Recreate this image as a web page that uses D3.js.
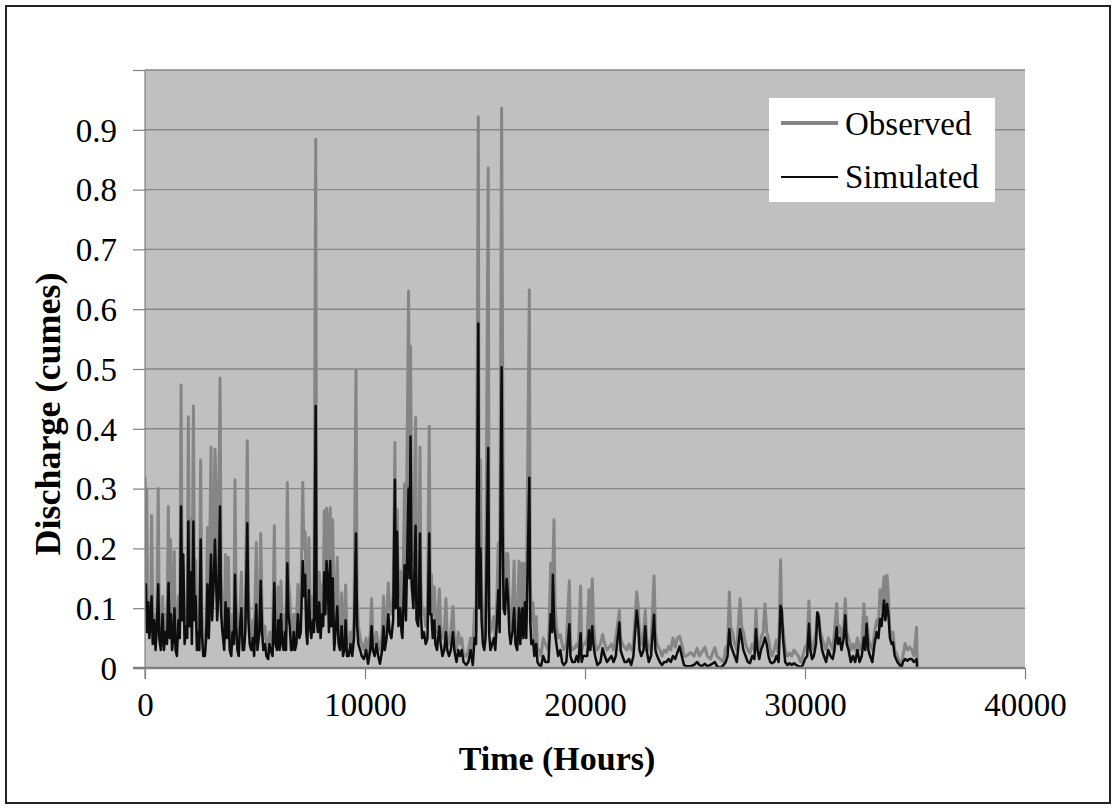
<!DOCTYPE html>
<html><head><meta charset="utf-8">
<script src="https://cdn.jsdelivr.net/npm/d3@7"></script>
<style>body{margin:0;background:#fff}svg{display:block}</style>
</head><body>
<script>
const xTicks = [0, 10000, 20000, 30000, 40000];
const yTicks = [0, 0.1, 0.2, 0.3, 0.4, 0.5, 0.6, 0.7, 0.8, 0.9, 1.0];
const seriesNames = ["Observed", "Simulated"];

const observed = [[0,0.32],[30,0.12],[75,0.30],[120,0.08],[180,0.10],[250,0.06],[300,0.255],[360,0.07],[420,0.09],[480,0.05],[540,0.08],[600,0.30],[650,0.07],[720,0.05],[800,0.12],[860,0.04],[930,0.09],[1000,0.06],[1060,0.27],[1110,0.10],[1160,0.215],[1210,0.05],[1270,0.07],[1330,0.195],[1380,0.05],[1450,0.04],[1520,0.12],[1580,0.07],[1640,0.473],[1690,0.12],[1740,0.17],[1800,0.06],[1860,0.10],[1920,0.07],[1970,0.42],[2020,0.10],[2080,0.25],[2130,0.07],[2200,0.438],[2250,0.12],[2300,0.18],[2360,0.06],[2420,0.09],[2470,0.05],[2530,0.348],[2580,0.10],[2650,0.04],[2720,0.03],[2780,0.07],[2840,0.235],[2900,0.07],[3000,0.369],[3050,0.12],[3110,0.2],[3180,0.366],[3230,0.31],[3280,0.13],[3340,0.2],[3410,0.485],[3460,0.15],[3520,0.10],[3600,0.06],[3660,0.19],[3720,0.08],[3790,0.185],[3850,0.06],[3920,0.04],[3980,0.09],[4040,0.07],[4090,0.315],[4140,0.12],[4200,0.06],[4260,0.04],[4320,0.10],[4380,0.16],[4440,0.06],[4500,0.05],[4560,0.09],[4650,0.38],[4700,0.13],[4760,0.07],[4830,0.05],[4900,0.08],[4960,0.04],[5060,0.21],[5110,0.06],[5200,0.09],[5260,0.225],[5320,0.10],[5380,0.05],[5450,0.07],[5520,0.04],[5600,0.03],[5660,0.06],[5720,0.05],[5800,0.04],[5880,0.238],[5930,0.07],[6000,0.06],[6060,0.136],[6120,0.05],[6180,0.146],[6240,0.07],[6300,0.06],[6360,0.09],[6410,0.06],[6470,0.31],[6520,0.15],[6580,0.12],[6640,0.06],[6700,0.05],[6760,0.09],[6820,0.05],[6880,0.07],[6950,0.14],[7020,0.08],[7080,0.1],[7170,0.31],[7220,0.2],[7280,0.228],[7330,0.10],[7380,0.07],[7450,0.218],[7500,0.12],[7560,0.08],[7620,0.12],[7680,0.10],[7760,0.884],[7800,0.12],[7860,0.10],[7920,0.16],[7980,0.08],[8050,0.14],[8100,0.11],[8150,0.263],[8200,0.15],[8250,0.267],[8310,0.248],[8360,0.10],[8420,0.268],[8470,0.12],[8530,0.248],[8600,0.06],[8660,0.10],[8740,0.185],[8800,0.07],[8860,0.06],[8940,0.126],[9000,0.05],[9060,0.06],[9120,0.139],[9180,0.05],[9260,0.04],[9340,0.06],[9420,0.04],[9500,0.08],[9590,0.498],[9640,0.12],[9700,0.07],[9780,0.05],[9850,0.04],[9950,0.03],[10050,0.05],[10140,0.02],[10240,0.06],[10300,0.116],[10360,0.05],[10440,0.04],[10520,0.06],[10600,0.04],[10680,0.03],[10780,0.06],[10840,0.12],[10900,0.06],[10980,0.08],[11060,0.142],[11120,0.10],[11200,0.09],[11280,0.12],[11360,0.377],[11400,0.15],[11460,0.265],[11520,0.12],[11600,0.162],[11660,0.10],[11700,0.08],[11800,0.308],[11860,0.14],[11980,0.63],[12020,0.30],[12070,0.538],[12120,0.24],[12200,0.18],[12300,0.419],[12340,0.14],[12420,0.12],[12500,0.369],[12540,0.15],[12600,0.09],[12680,0.10],[12760,0.07],[12840,0.09],[12920,0.404],[12960,0.16],[13020,0.156],[13080,0.09],[13150,0.136],[13200,0.08],[13270,0.06],[13380,0.132],[13440,0.07],[13520,0.05],[13600,0.06],[13680,0.116],[13740,0.05],[13820,0.04],[13900,0.06],[14000,0.103],[14060,0.05],[14160,0.03],[14240,0.06],[14320,0.04],[14400,0.05],[14480,0.02],[14600,0.02],[14700,0.03],[14800,0.05],[14900,0.03],[14980,0.096],[15050,0.06],[15150,0.922],[15190,0.15],[15250,0.348],[15300,0.14],[15360,0.07],[15420,0.05],[15480,0.08],[15600,0.836],[15640,0.10],[15700,0.06],[15780,0.07],[15860,0.086],[15920,0.05],[16000,0.12],[16060,0.209],[16120,0.10],[16210,0.936],[16250,0.553],[16300,0.15],[16360,0.13],[16440,0.192],[16500,0.19],[16560,0.10],[16620,0.07],[16700,0.10],[16780,0.179],[16840,0.07],[16920,0.06],[17000,0.179],[17060,0.07],[17140,0.175],[17200,0.08],[17270,0.175],[17330,0.09],[17470,0.632],[17510,0.15],[17560,0.08],[17640,0.109],[17700,0.04],[17780,0.086],[17840,0.03],[17920,0.03],[18000,0.02],[18100,0.05],[18200,0.04],[18340,0.03],[18440,0.175],[18500,0.10],[18590,0.248],[18640,0.10],[18700,0.07],[18780,0.05],[18880,0.056],[18960,0.04],[19040,0.03],[19150,0.04],[19290,0.146],[19340,0.04],[19420,0.03],[19540,0.033],[19620,0.04],[19700,0.035],[19800,0.137],[19850,0.03],[19920,0.04],[20000,0.04],[20100,0.05],[20180,0.131],[20240,0.06],[20330,0.149],[20380,0.08],[20460,0.04],[20560,0.03],[20700,0.04],[20800,0.056],[20900,0.04],[21000,0.03],[21100,0.035],[21200,0.04],[21300,0.03],[21400,0.05],[21560,0.096],[21620,0.05],[21700,0.04],[21800,0.035],[21900,0.03],[22000,0.04],[22100,0.03],[22200,0.04],[22350,0.127],[22420,0.103],[22480,0.06],[22560,0.04],[22660,0.06],[22740,0.096],[22800,0.05],[22900,0.03],[23000,0.04],[23140,0.154],[23200,0.06],[23280,0.04],[23400,0.03],[23500,0.02],[23600,0.03],[23700,0.026],[23800,0.036],[23900,0.03],[24000,0.05],[24100,0.035],[24200,0.05],[24300,0.053],[24400,0.04],[24500,0.02],[24600,0.02],[24800,0.026],[24950,0.02],[25100,0.033],[25200,0.02],[25300,0.026],[25450,0.035],[25560,0.02],[25700,0.015],[25900,0.034],[26000,0.02],[26150,0.015],[26300,0.01],[26400,0.035],[26480,0.03],[26560,0.127],[26620,0.07],[26700,0.06],[26800,0.04],[26900,0.03],[27050,0.116],[27120,0.07],[27200,0.06],[27300,0.04],[27400,0.03],[27500,0.025],[27600,0.04],[27700,0.03],[27770,0.099],[27840,0.04],[27920,0.03],[28000,0.05],[28100,0.06],[28180,0.107],[28260,0.06],[28340,0.05],[28420,0.03],[28500,0.02],[28600,0.03],[28700,0.047],[28800,0.02],[28890,0.181],[28950,0.06],[29000,0.07],[29100,0.03],[29200,0.02],[29300,0.025],[29400,0.02],[29500,0.03],[29600,0.025],[29700,0.02],[29800,0.01],[29900,0.02],[30000,0.035],[30100,0.04],[30180,0.112],[30240,0.05],[30320,0.03],[30400,0.04],[30500,0.06],[30560,0.093],[30620,0.09],[30700,0.06],[30780,0.05],[30860,0.04],[30960,0.03],[31060,0.05],[31160,0.04],[31260,0.03],[31340,0.06],[31440,0.108],[31500,0.06],[31580,0.07],[31660,0.05],[31760,0.07],[31830,0.116],[31900,0.06],[31980,0.05],[32080,0.03],[32180,0.04],[32280,0.03],[32380,0.05],[32480,0.03],[32580,0.04],[32680,0.107],[32740,0.05],[32800,0.085],[32880,0.05],[32960,0.04],[33060,0.03],[33160,0.06],[33260,0.08],[33340,0.07],[33410,0.131],[33480,0.1],[33590,0.153],[33650,0.09],[33730,0.155],[33790,0.12],[33860,0.06],[33940,0.05],[34000,0.06],[34080,0.03],[34200,0.02],[34300,0.01],[34390,0.002],[34450,0.02],[34550,0.041],[34650,0.03],[34750,0.035],[34850,0.03],[34950,0.02],[35070,0.068],[35100,0.005]];

const simulated = [[0,0.10],[40,0.14],[90,0.06],[150,0.11],[200,0.05],[260,0.09],[300,0.12],[350,0.04],[420,0.08],[480,0.03],[540,0.07],[600,0.14],[650,0.05],[720,0.03],[800,0.09],[860,0.03],[930,0.06],[1000,0.04],[1070,0.142],[1120,0.05],[1180,0.09],[1230,0.03],[1290,0.05],[1340,0.10],[1390,0.03],[1450,0.02],[1520,0.08],[1580,0.05],[1640,0.27],[1690,0.08],[1740,0.19],[1800,0.04],[1860,0.07],[1920,0.05],[1970,0.245],[2020,0.07],[2080,0.16],[2130,0.04],[2200,0.245],[2250,0.08],[2300,0.12],[2360,0.03],[2420,0.06],[2470,0.03],[2530,0.215],[2580,0.06],[2650,0.02],[2720,0.02],[2780,0.05],[2840,0.14],[2900,0.05],[3000,0.19],[3050,0.08],[3110,0.13],[3180,0.215],[3230,0.15],[3280,0.08],[3340,0.12],[3410,0.27],[3460,0.09],[3520,0.06],[3600,0.03],[3660,0.11],[3720,0.05],[3790,0.10],[3850,0.03],[3920,0.02],[3980,0.06],[4040,0.04],[4090,0.156],[4140,0.07],[4200,0.03],[4260,0.02],[4320,0.07],[4380,0.10],[4440,0.03],[4500,0.03],[4560,0.06],[4650,0.242],[4700,0.08],[4760,0.04],[4830,0.03],[4900,0.05],[4960,0.02],[5060,0.106],[5110,0.03],[5200,0.06],[5260,0.146],[5320,0.06],[5380,0.03],[5450,0.04],[5520,0.02],[5600,0.015],[5660,0.04],[5720,0.03],[5800,0.02],[5880,0.142],[5930,0.04],[6000,0.03],[6060,0.08],[6120,0.03],[6180,0.09],[6240,0.04],[6300,0.03],[6360,0.06],[6410,0.03],[6470,0.175],[6520,0.09],[6580,0.07],[6640,0.03],[6700,0.03],[6760,0.06],[6820,0.03],[6880,0.04],[6950,0.09],[7020,0.05],[7080,0.06],[7170,0.179],[7220,0.12],[7280,0.156],[7330,0.06],[7380,0.04],[7450,0.13],[7500,0.07],[7560,0.05],[7620,0.08],[7680,0.06],[7760,0.438],[7800,0.08],[7860,0.06],[7920,0.11],[7980,0.05],[8050,0.09],[8100,0.07],[8150,0.16],[8200,0.09],[8250,0.179],[8310,0.15],[8360,0.06],[8420,0.179],[8470,0.07],[8530,0.15],[8600,0.03],[8660,0.06],[8740,0.103],[8800,0.04],[8860,0.03],[8940,0.07],[9000,0.02],[9060,0.03],[9120,0.08],[9180,0.02],[9260,0.02],[9340,0.04],[9420,0.02],[9500,0.05],[9590,0.225],[9640,0.07],[9700,0.04],[9780,0.03],[9850,0.02],[9950,0.015],[10050,0.03],[10140,0.007],[10240,0.03],[10300,0.07],[10360,0.03],[10440,0.02],[10520,0.04],[10600,0.02],[10680,0.007],[10780,0.03],[10840,0.07],[10900,0.03],[10980,0.05],[11060,0.09],[11120,0.06],[11200,0.05],[11280,0.08],[11360,0.315],[11400,0.10],[11460,0.228],[11520,0.07],[11600,0.10],[11660,0.06],[11700,0.05],[11800,0.172],[11860,0.08],[11980,0.30],[12020,0.15],[12070,0.387],[12120,0.14],[12200,0.10],[12300,0.238],[12340,0.08],[12420,0.07],[12500,0.225],[12540,0.09],[12600,0.05],[12680,0.06],[12760,0.04],[12840,0.05],[12920,0.225],[12960,0.09],[13020,0.09],[13080,0.05],[13150,0.08],[13200,0.04],[13270,0.03],[13380,0.07],[13440,0.04],[13520,0.02],[13600,0.03],[13680,0.06],[13740,0.03],[13820,0.02],[13900,0.03],[14000,0.06],[14060,0.03],[14160,0.01],[14240,0.03],[14320,0.02],[14400,0.03],[14480,0.01],[14600,0.005],[14700,0.01],[14800,0.03],[14900,0.005],[14980,0.05],[15050,0.04],[15150,0.576],[15190,0.10],[15250,0.20],[15300,0.08],[15360,0.04],[15420,0.03],[15480,0.05],[15600,0.368],[15640,0.06],[15700,0.03],[15780,0.04],[15860,0.05],[15920,0.03],[16000,0.08],[16060,0.13],[16120,0.06],[16210,0.503],[16250,0.25],[16300,0.10],[16360,0.09],[16440,0.149],[16500,0.12],[16560,0.06],[16620,0.04],[16700,0.06],[16780,0.10],[16840,0.04],[16920,0.03],[17000,0.10],[17060,0.04],[17140,0.10],[17200,0.05],[17270,0.11],[17330,0.05],[17470,0.318],[17510,0.08],[17560,0.04],[17640,0.046],[17700,0.02],[17780,0.04],[17840,0.01],[17920,0.005],[18000,0.003],[18100,0.02],[18200,0.01],[18340,0.01],[18440,0.09],[18500,0.06],[18540,0.156],[18600,0.07],[18700,0.04],[18780,0.02],[18880,0.03],[18960,0.01],[19040,0.005],[19150,0.01],[19290,0.073],[19340,0.02],[19420,0.01],[19540,0.01],[19620,0.02],[19700,0.01],[19800,0.058],[19850,0.01],[19920,0.02],[20000,0.02],[20100,0.02],[20180,0.063],[20240,0.03],[20330,0.07],[20380,0.04],[20460,0.02],[20560,0.005],[20700,0.01],[20800,0.033],[20900,0.02],[21000,0.01],[21100,0.015],[21200,0.02],[21300,0.01],[21400,0.02],[21560,0.076],[21620,0.03],[21700,0.02],[21800,0.01],[21900,0.01],[22000,0.015],[22100,0.005],[22200,0.02],[22350,0.096],[22420,0.07],[22480,0.03],[22560,0.02],[22660,0.03],[22740,0.07],[22800,0.03],[22900,0.01],[23000,0.02],[23140,0.089],[23200,0.03],[23280,0.02],[23400,0.01],[23500,0.005],[23600,0.01],[23700,0.01],[23800,0.015],[23900,0.01],[24000,0.02],[24100,0.015],[24200,0.026],[24300,0.036],[24400,0.02],[24500,0.005],[24600,0.003],[24800,0.003],[24950,0.005],[25100,0.01],[25200,0.005],[25300,0.003],[25450,0.007],[25560,0.003],[25700,0.005],[25900,0.01],[26000,0.003],[26150,0.0],[26300,0.005],[26400,0.01],[26480,0.02],[26560,0.065],[26620,0.04],[26700,0.03],[26800,0.02],[26900,0.01],[27050,0.065],[27120,0.05],[27200,0.03],[27300,0.02],[27400,0.01],[27500,0.008],[27600,0.02],[27700,0.015],[27770,0.065],[27840,0.03],[27920,0.015],[28000,0.03],[28100,0.04],[28180,0.051],[28260,0.04],[28340,0.02],[28420,0.01],[28500,0.008],[28600,0.01],[28700,0.02],[28800,0.01],[28890,0.104],[28950,0.096],[29000,0.05],[29100,0.01],[29200,0.005],[29300,0.008],[29400,0.005],[29500,0.008],[29600,0.005],[29700,0.003],[29800,0.001],[29900,0.005],[30000,0.015],[30100,0.02],[30180,0.074],[30240,0.03],[30320,0.015],[30400,0.02],[30500,0.04],[30560,0.093],[30620,0.085],[30700,0.05],[30780,0.03],[30860,0.02],[30960,0.01],[31060,0.03],[31160,0.02],[31260,0.015],[31340,0.03],[31440,0.068],[31500,0.04],[31580,0.05],[31660,0.03],[31760,0.05],[31830,0.088],[31900,0.04],[31980,0.03],[32080,0.01],[32180,0.02],[32280,0.01],[32380,0.03],[32480,0.01],[32580,0.02],[32680,0.051],[32740,0.03],[32800,0.074],[32880,0.03],[32960,0.02],[33060,0.01],[33160,0.04],[33260,0.06],[33340,0.05],[33410,0.082],[33480,0.07],[33590,0.113],[33650,0.08],[33730,0.107],[33790,0.09],[33860,0.05],[33940,0.04],[34000,0.043],[34080,0.02],[34200,0.01],[34300,0.005],[34390,0.002],[34450,0.01],[34550,0.015],[34650,0.012],[34750,0.015],[34850,0.015],[34950,0.01],[35070,0.015],[35100,0.001]];

const W = 1115, H = 808;
const FONT = "'Liberation Serif','Times New Roman',serif";
const svg = d3.select("body").append("svg").attr("width", W).attr("height", H);

// outer frame
svg.append("rect").attr("x", 6).attr("y", 6).attr("width", 1104).attr("height", 797)
  .attr("fill", "#fff").attr("stroke", "#222").attr("stroke-width", 2);

const x = d3.scaleLinear().domain([0, 40000]).range([145, 1025]);
const y = d3.scaleLinear().domain([0, 1]).range([668, 70]);

svg.append("rect").attr("x", x(0)).attr("y", y(1)).attr("width", x(40000) - x(0)).attr("height", y(0) - y(1))
  .attr("fill", "#c0c0c0");

// gridlines
svg.append("g").selectAll("line").data(yTicks.filter(d => d > 0)).join("line")
  .attr("x1", x(0)).attr("x2", x(40000)).attr("y1", d => y(d)).attr("y2", d => y(d))
  .attr("stroke", "#868686").attr("stroke-width", 1.4);

// clip
svg.append("clipPath").attr("id", "clip").append("rect")
  .attr("x", x(0)).attr("y", y(1)).attr("width", x(40000) - x(0)).attr("height", y(0) - y(1) + 2);

const line = d3.line().x(d => x(d[0])).y(d => y(d[1]));
const g = svg.append("g").attr("clip-path", "url(#clip)");
g.append("path").datum(observed).attr("d", line).attr("fill", "none")
  .attr("stroke", "#858585").attr("stroke-width", 3).attr("stroke-linejoin", "round");
g.append("path").datum(simulated).attr("d", line).attr("fill", "none")
  .attr("stroke", "#0d0d0d").attr("stroke-width", 2.5).attr("stroke-linejoin", "round");

// y axis
const yAxis = d3.axisLeft(y).tickValues(yTicks).tickSize(12).tickPadding(16)
  .tickFormat(d => d >= 1 ? "" : d3.format("~g")(d));
const ya = svg.append("g").attr("transform", `translate(${x(0)},0)`).call(yAxis);
ya.select(".domain").attr("stroke", "#808080").attr("stroke-width", 1.2).attr("d", `M0,${y(1)}V${y(0) + 11}`);
ya.selectAll(".tick line").attr("stroke", "#808080").attr("stroke-width", 1.2);
ya.selectAll(".tick text").attr("font-family", FONT).attr("font-size", 33).attr("fill", "#000").attr("dy", "0.34em");

// x axis
const xAxis = d3.axisBottom(x).tickValues(xTicks).tickSize(11).tickPadding(14).tickFormat(d3.format("d"));
const xa = svg.append("g").attr("transform", `translate(0,${y(0)})`).call(xAxis);
xa.select(".domain").attr("stroke", "#808080").attr("stroke-width", 2.4).attr("d", `M${x(0) - 12},0H${x(40000)}`);
xa.selectAll(".tick line").attr("stroke", "#808080").attr("stroke-width", 1.2);
xa.selectAll(".tick text").attr("font-family", FONT).attr("font-size", 33).attr("fill", "#000");

// axis titles
svg.append("text").attr("x", 557).attr("y", 770).attr("text-anchor", "middle")
  .attr("font-family", FONT).attr("font-weight", "bold").attr("font-size", 34).text("Time (Hours)");
svg.append("text").attr("transform", "translate(60,414) rotate(-90)").attr("text-anchor", "middle")
  .attr("font-family", FONT).attr("font-weight", "bold").attr("font-size", 36).text("Discharge (cumes)");

// legend
const lg = svg.append("g");
lg.append("rect").attr("x", 769).attr("y", 98).attr("width", 226).attr("height", 104).attr("fill", "#fff");
const legendItems = [
  { name: seriesNames[0], color: "#858585", w: 4, ly: 123, ty: 135 },
  { name: seriesNames[1], color: "#0d0d0d", w: 2, ly: 177, ty: 188 }
];
legendItems.forEach(it => {
  lg.append("line").attr("x1", 781).attr("x2", 838).attr("y1", it.ly).attr("y2", it.ly)
    .attr("stroke", it.color).attr("stroke-width", it.w);
  lg.append("text").attr("x", 845).attr("y", it.ty).attr("font-family", FONT).attr("font-size", 33)
    .attr("fill", "#000").text(it.name);
});
</script>
</body></html>
